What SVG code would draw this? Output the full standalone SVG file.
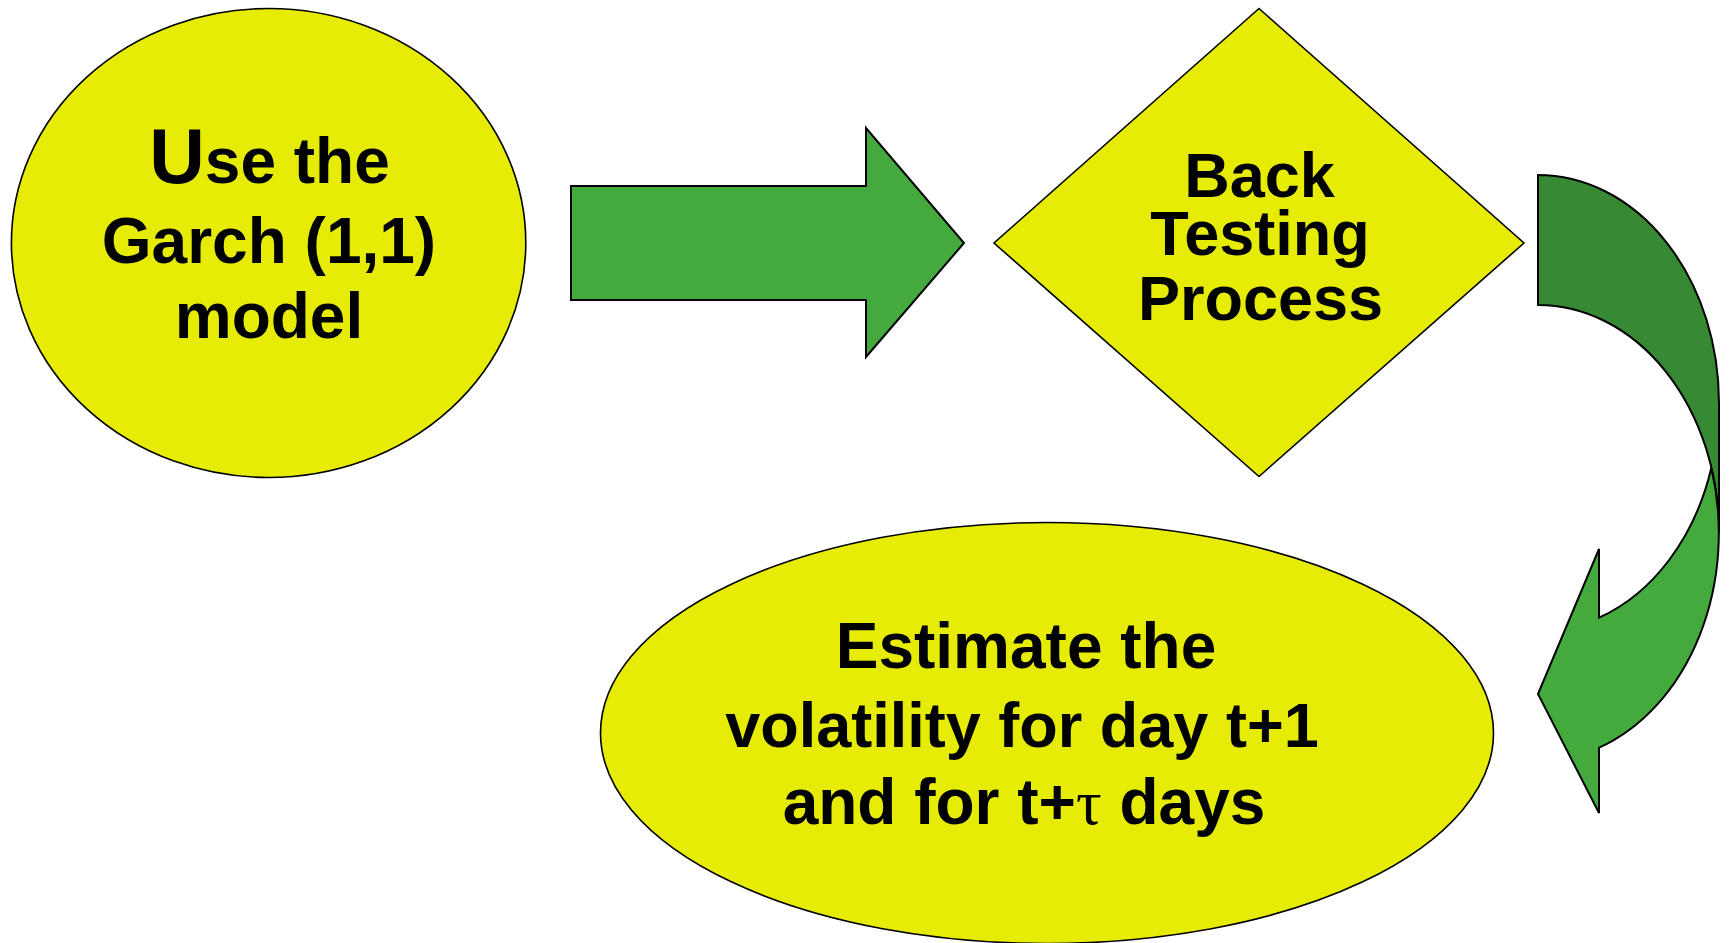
<svg xmlns="http://www.w3.org/2000/svg" width="1729" height="943" viewBox="0 0 1729 943">
  <style>
    .node { fill: #E6EC06; stroke: #000; stroke-width: 1.6; }
    .arrow { fill: #44AA3D; stroke: #000; stroke-width: 2; stroke-linejoin: miter; }
    .arrow-back { fill: #378A33; stroke: #000; stroke-width: 2; }
    .label { font-family: "Liberation Sans", Arial, sans-serif; font-weight: bold; fill: #000; text-anchor: middle; }
  </style>
  <rect width="1729" height="943" fill="#fff"/>

  <g id="connectors">
    <path id="arrow-right" class="arrow" d="M571,186 L866,186 L866,128 L964,243 L866,357 L866,300 L571,300 Z"/>
    <g id="arrow-curved">
      <path class="arrow-back" d="M1538,175 A181,228 0 0 1 1719,403 L1719,533 A181,228 0 0 0 1538,305 Z"/>
      <path class="arrow" d="M1711.3,468 A181,228 0 0 1 1599,747.7 L1599,813 L1538,694 L1599,549 L1599,617.7 A181,228 0 0 0 1711.3,468 Z"/>
    </g>
  </g>

  <g id="node-garch">
    <ellipse class="node" cx="268.6" cy="243" rx="257.2" ry="234.5"/>
    <text class="label" font-size="64" x="269.5" y="183"><tspan font-size="77">U</tspan>se the</text>
    <text class="label" font-size="64" x="269" y="262.5">Garch (1,1)</text>
    <text class="label" font-size="64" x="269" y="338">model</text>
  </g>

  <g id="node-backtesting">
    <polygon class="node" points="1259,8.5 1524,243 1259,476.5 994,243"/>
    <text class="label" font-size="63" x="1259.5" y="196.5">Back</text>
    <text class="label" font-size="63" x="1260" y="254.5">Testing</text>
    <text class="label" font-size="63" x="1260.5" y="319.5">Process</text>
  </g>

  <g id="node-estimate">
    <ellipse class="node" cx="1047" cy="733" rx="446.5" ry="210.5"/>
    <text class="label" font-size="64" x="1026" y="668">Estimate the</text>
    <text class="label" font-size="63" x="1022" y="747">volatility for day t+1</text>
    <text class="label" font-size="64" x="1024" y="824">and for t+<tspan font-family="'Liberation Serif', 'Times New Roman', serif" font-weight="normal">τ</tspan> days</text>
  </g>
</svg>
